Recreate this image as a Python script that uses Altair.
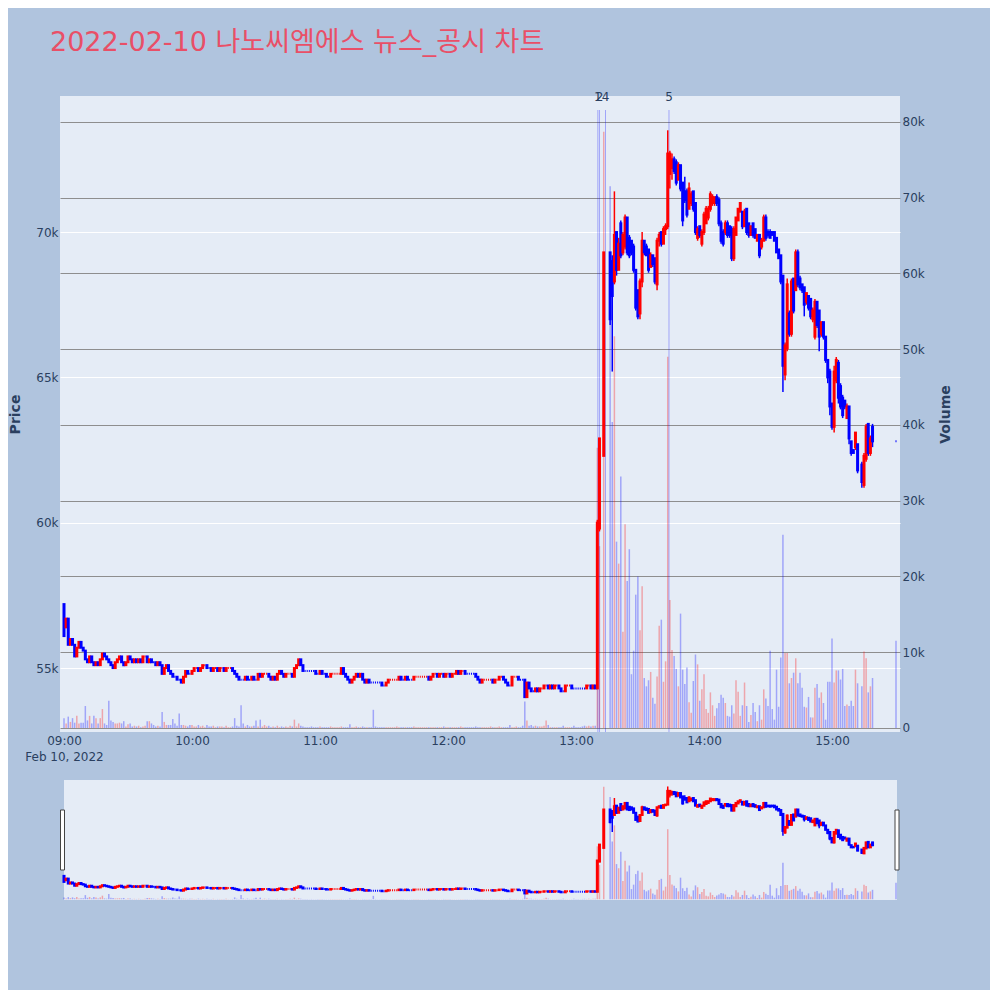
import altair as alt
import pandas as pd

TITLE = "2022-02-10 나노씨엠에스 뉴스_공시 차트"
FONT = "DejaVu Sans, Verdana, Noto Sans CJK KR"
TXT = "#2a3f5f"
UP = "#ff0000"
DOWN = "#0000ff"

# ---- morning session 09:00-13:09, one candle per minute (prices in hundreds of won) ----
am_open = [
    572, 564, 567, 558, 560, 558, 554, 557, 559, 557,
    556, 553, 552, 554, 552, 551, 552, 551, 553, 555,
    554, 553, 552, 551, 550, 552, 553, 554, 552, 551,
    552, 554, 553, 552, 553, 552, 553, 552, 554, 554,
    552, 553, 552, 552, 551, 552, 551, 548, 550, 551,
    549, 548, 547, 547, 546, 546, 545, 547, 549, 548,
    548, 549, 550, 550, 549, 550, 551, 551, 550, 550,
    549, 550, 550, 549, 550, 550, 549, 550, 550, 550,
    549, 548, 547, 546, 546, 546, 547, 546, 546, 547,
    546, 546, 548, 547, 548, 548, 548, 547, 546, 547,
    546, 548, 549, 548, 547, 548, 548, 548, 547, 550,
    551, 553, 551, 549, 549, 549, 549, 549, 549, 548,
    548, 549, 548, 548, 547, 547, 548, 548, 548, 548,
    548, 550, 548, 547, 546, 545, 546, 547, 548, 547,
    548, 546, 545, 546, 545, 545, 545, 545, 545, 545,
    544, 544, 545, 546, 546, 546, 546, 546, 547, 546,
    546, 547, 546, 546, 546, 547, 547, 547, 547, 547,
    547, 547, 546, 547, 548, 548, 547, 548, 548, 547,
    548, 548, 547, 548, 548, 549, 548, 549, 549, 548,
    548, 548, 548, 548, 547, 546, 545, 546, 546, 546,
    546, 546, 545, 546, 546, 547, 547, 546, 545, 544,
    544, 547, 547, 547, 546, 546, 546, 540, 545, 543,
    542, 542, 543, 542, 543, 543, 544, 544, 543, 544,
    543, 544, 544, 543, 542, 542, 544, 544, 544, 543,
    543, 543, 543, 543, 543, 543, 544, 544, 543, 544,
]
am_close = [
    561, 567, 558, 560, 558, 554, 557, 559, 557, 556,
    553, 552, 554, 552, 551, 552, 551, 553, 555, 554,
    553, 552, 551, 550, 552, 553, 554, 552, 551, 552,
    554, 553, 552, 553, 552, 553, 552, 554, 554, 552,
    553, 552, 552, 551, 552, 551, 548, 550, 551, 549,
    548, 547, 547, 546, 546, 545, 547, 549, 548, 548,
    549, 550, 550, 549, 550, 551, 551, 550, 550, 549,
    550, 550, 549, 550, 550, 549, 550, 550, 550, 549,
    548, 547, 546, 546, 546, 547, 546, 546, 547, 546,
    546, 548, 547, 548, 548, 548, 547, 546, 547, 546,
    548, 549, 548, 547, 548, 548, 548, 547, 550, 551,
    553, 551, 549, 549, 549, 549, 549, 549, 548, 548,
    549, 548, 548, 547, 547, 548, 548, 548, 548, 548,
    550, 548, 547, 546, 545, 546, 547, 548, 547, 548,
    546, 545, 546, 545, 545, 545, 545, 545, 545, 544,
    544, 545, 546, 546, 546, 546, 546, 547, 546, 546,
    547, 546, 546, 546, 547, 547, 547, 547, 547, 547,
    547, 546, 547, 548, 548, 547, 548, 548, 547, 548,
    548, 547, 548, 548, 549, 548, 549, 549, 548, 548,
    548, 548, 548, 547, 546, 545, 546, 546, 546, 546,
    546, 545, 546, 546, 547, 547, 546, 545, 544, 544,
    547, 547, 547, 546, 546, 546, 540, 545, 543, 542,
    542, 543, 542, 543, 543, 544, 544, 543, 544, 543,
    544, 544, 543, 542, 542, 544, 544, 544, 543, 543,
    543, 543, 543, 543, 543, 544, 544, 543, 544, 543,
]
# volume in thousands of shares
am_volume = [
    1.3, 0.6, 1.5, 0.8, 1.3, 0.7, 1.6, 0.6, 0.7, 0.7,
    2.9, 1.0, 1.6, 0.6, 1.6, 1.3, 0.6, 1.3, 2.5, 0.6,
    0.4, 3.6, 1.0, 0.8, 0.6, 0.6, 0.7, 0.6, 0.9, 0.2,
    0.5, 0.6, 0.2, 0.3, 0.2, 0.3, 0.1, 0.2, 0.3, 0.9,
    0.9, 0.6, 0.4, 0.2, 0.3, 0.2, 2.1, 0.8, 0.4, 0.4,
    0.4, 1.2, 0.6, 0.3, 1.9, 0.4, 0.4, 0.3, 0.2, 0.4,
    0.4, 0.2, 0.2, 0.4, 0.2, 0.3, 0.1, 0.4, 0.2, 0.2,
    0.3, 0.1, 0.2, 0.2, 0.2, 0.1, 0.3, 0.1, 0.1, 0.2,
    1.3, 0.3, 0.2, 3.0, 0.6, 0.2, 0.4, 0.2, 0.2, 0.3,
    1.0, 0.2, 1.1, 0.2, 0.4, 0.2, 0.3, 0.1, 0.2, 0.1,
    0.3, 0.1, 0.2, 0.1, 0.2, 0.1, 0.3, 0.2, 1.1, 0.2,
    0.6, 0.3, 0.2, 0.1, 0.1, 0.1, 0.2, 0.1, 0.1, 0.1,
    0.2, 0.1, 0.1, 0.1, 0.1, 0.2, 0.1, 0.1, 0.1, 0.1,
    0.2, 0.1, 0.1, 0.1, 0.5, 0.1, 0.1, 0.2, 0.1, 0.1,
    0.2, 0.1, 0.1, 0.1, 0.1, 2.4, 0.2, 0.1, 0.1, 0.1,
    0.1, 0.1, 0.1, 0.1, 0.1, 0.1, 0.2, 0.1, 0.1, 0.1,
    0.1, 0.1, 0.1, 0.1, 0.2, 0.1, 0.1, 0.1, 0.1, 0.1,
    0.1, 0.1, 0.1, 0.1, 0.1, 0.1, 0.1, 0.1, 0.2, 0.1,
    0.1, 0.1, 0.1, 0.1, 0.1, 0.1, 0.2, 0.1, 0.1, 0.1,
    0.1, 0.1, 0.1, 0.2, 0.1, 0.1, 0.1, 0.1, 0.1, 0.1,
    0.2, 0.1, 0.1, 0.1, 0.2, 0.1, 0.1, 0.1, 0.1, 0.4,
    0.1, 0.1, 0.2, 0.1, 0.1, 0.3, 3.5, 1.0, 0.3, 0.4,
    0.2, 0.3, 0.2, 0.2, 0.2, 0.3, 1.0, 0.4, 0.1, 0.1,
    0.1, 0.1, 0.1, 0.1, 0.3, 0.1, 0.1, 0.1, 0.1, 0.3,
    0.1, 0.1, 0.1, 0.2, 0.3, 0.2, 0.3, 0.2, 0.3, 0.3,
]

# ---- afternoon session after the news (minutes after 09:00) ----
pm_minute = [250, 251, 253] + list(range(256, 373)) + list(range(374, 380)) + [390]
pm_open = [
    543, 598, 623,
    693, 690, 683, 700, 687, 703, 693, 695, 705, 698,
    697, 695, 687, 680, 672, 683, 697, 695, 694, 688,
    692, 691, 682, 697, 700, 696, 701, 702, 720, 722,
    725, 724, 718, 723, 717, 714, 714, 708, 710, 714,
    710, 698, 702, 696, 700, 703, 705, 708, 710, 710,
    712, 711, 703, 700, 700, 703, 702, 701, 691, 699,
    704, 707, 707, 702, 708, 703, 699, 703, 701, 697,
    699, 695, 697, 705, 700, 700, 700, 700, 698, 694,
    692, 685, 651, 660, 672, 665, 684, 680, 693, 684,
    682, 681, 676, 678, 677, 670, 664, 676, 673, 665,
    669, 664, 656, 652, 641, 633, 649, 655, 647, 643,
    642, 636, 640, 628, 625, 626, 627,
    620, 613, 622, 634, 624, 633,
    628,
]
pm_high = [
    601, 629, 693,
    693, 692, 714, 700, 698, 704, 700, 706, 705, 699,
    697, 696, 687, 680, 684, 700, 697, 696, 694, 693,
    692, 691, 698, 700, 700, 702, 703, 735, 728, 727,
    726, 725, 724, 723, 717, 719, 715, 717, 714, 714,
    710, 702, 702, 701, 707, 709, 709, 714, 713, 712,
    713, 712, 704, 701, 704, 704, 702, 702, 702, 705,
    708, 710, 707, 708, 708, 703, 702, 703, 701, 699,
    699, 698, 706, 706, 701, 701, 700, 700, 698, 694,
    692, 685, 662, 684, 673, 684, 684, 694, 694, 685,
    682, 681, 679, 678, 677, 674, 677, 676, 673, 669,
    669, 664, 656, 653, 641, 654, 657, 656, 648, 644,
    642, 641, 640, 628, 625, 631, 627,
    621, 624, 634, 634, 630, 634,
    628,
]
pm_low = [
    543, 597, 623,
    668, 652, 682, 685, 687, 691, 692, 694, 692, 691,
    692, 686, 673, 670, 670, 681, 692, 692, 686, 688,
    688, 682, 680, 695, 695, 696, 699, 701, 715, 718,
    720, 716, 718, 714, 702, 710, 705, 708, 709, 707,
    699, 697, 698, 695, 699, 703, 704, 707, 709, 709,
    709, 702, 696, 695, 699, 698, 698, 690, 690, 699,
    704, 707, 701, 702, 699, 698, 699, 698, 698, 697,
    691, 694, 697, 697, 698, 698, 699, 697, 693, 691,
    682, 645, 649, 659, 664, 664, 672, 680, 681, 680,
    679, 671, 675, 673, 670, 669, 663, 667, 659, 664,
    663, 655, 648, 637, 632, 631, 648, 641, 639, 636,
    639, 636, 627, 623, 624, 625, 617,
    612, 612, 621, 623, 623, 626,
    628,
]
pm_close = [
    600, 629, 693,
    670, 678, 699, 687, 696, 692, 699, 705, 693, 692,
    693, 687, 674, 671, 683, 697, 693, 692, 687, 692,
    689, 683, 697, 699, 696, 701, 702, 727, 727, 725,
    721, 717, 723, 715, 704, 711, 706, 715, 713, 708,
    700, 701, 699, 700, 706, 708, 708, 713, 712, 712,
    710, 703, 697, 696, 703, 699, 699, 691, 701, 705,
    708, 710, 702, 707, 700, 699, 702, 699, 698, 699,
    692, 697, 705, 698, 699, 698, 699, 697, 693, 691,
    683, 654, 661, 682, 665, 683, 673, 693, 682, 681,
    680, 675, 679, 674, 671, 673, 676, 668, 664, 669,
    664, 656, 650, 640, 633, 652, 656, 643, 640, 637,
    640, 640, 629, 624, 624, 631, 618,
    614, 623, 633, 624, 629, 628,
    628,
]
pm_volume = [
    37.0, 24.0, 78.7,
    71.5, 40.4, 51.7, 24.6, 21.7, 33.2, 12.7, 26.9, 19.4, 23.6,
    7.1, 10.2, 17.6, 20.0, 12.9, 18.7, 6.6, 5.5, 6.3, 7.4,
    4.0, 3.2, 6.8, 13.5, 14.3, 6.1, 8.8, 49.0, 16.9, 10.3,
    9.5, 7.8, 5.5, 15.1, 7.7, 5.8, 8.0, 3.4, 2.0, 6.2,
    9.7, 8.4, 3.6, 5.1, 7.1, 2.5, 2.0, 4.7, 3.0, 1.6,
    2.6, 3.3, 4.4, 4.0, 3.3, 1.6, 1.5, 3.0, 1.9, 6.3,
    4.8, 1.6, 3.0, 6.0, 2.9, 0.8, 1.7, 3.3, 2.1, 0.9,
    3.0, 1.1, 5.1, 3.9, 2.9, 10.2, 2.5, 1.1, 7.7, 2.8,
    9.3, 25.5, 9.9, 9.9, 5.9, 6.6, 7.3, 9.2, 5.9, 7.3,
    5.3, 2.8, 2.7, 4.1, 1.4, 1.4, 5.3, 5.8, 4.0, 4.7,
    3.3, 1.1, 6.1, 6.1, 11.8, 6.0, 7.6, 7.6, 6.4, 7.8,
    2.9, 3.1, 2.9, 3.6, 2.9, 7.7, 5.9,
    5.5, 10.1, 9.2, 4.7, 5.5, 6.6,
    11.5,
]

# news / disclosure markers
news_label = ["1", "2", "4", "5"]
news_time = ["2022-02-10T13:10:15", "2022-02-10T13:11:00",
             "2022-02-10T13:13:50", "2022-02-10T13:43:35"]

price_ticks = [55000, 60000, 65000, 70000]
volume_ticks = [0, 10000, 20000, 30000, 40000, 50000, 60000, 70000, 80000]

# ---- build table ----
rows = []
for i in range(len(am_close)):
    o, c = am_open[i], am_close[i]
    rows.append(dict(m=i, o=o * 100, h=max(o, c) * 100, l=min(o, c) * 100,
                     c=c * 100, v=am_volume[i] * 1000))
for j, mm in enumerate(pm_minute):
    rows.append(dict(m=mm, o=pm_open[j] * 100, h=pm_high[j] * 100, l=pm_low[j] * 100,
                     c=pm_close[j] * 100, v=pm_volume[j] * 1000))
df = pd.DataFrame(rows)
df["t"] = [f"2022-02-10T{9 + int(mm) // 60:02d}:{int(mm) % 60:02d}:00" for mm in df["m"]]
dirs = []
prev_c, prev_d = None, "up"
for o, c in zip(df["o"], df["c"]):
    if c > o:
        d = "up"
    elif c < o:
        d = "down"
    elif prev_c is not None and c > prev_c:
        d = "up"
    elif prev_c is not None and c < prev_c:
        d = "down"
    else:
        d = prev_d
    dirs.append(d)
    prev_c, prev_d = c, d
df["dir"] = dirs
df = df.drop(columns=["m"])

news_df = pd.DataFrame({"label": news_label, "t": news_time})

# ---- scales & axes ----
x_scale = alt.Scale(domain=[
    alt.DateTime(year=2022, month=2, date=10, hours=8, minutes=58, seconds=7, milliseconds=500),
    alt.DateTime(year=2022, month=2, date=10, hours=15, minutes=31, seconds=52, milliseconds=500),
], padding=0)
price_scale = alt.Scale(domain=[52800, 74680], nice=False, zero=False)
vol_scale = alt.Scale(domain=[-530, 83430], nice=False, zero=False)
dir_scale = alt.Scale(domain=["up", "down"], range=[UP, DOWN])

x_axis = alt.Axis(
    values=[alt.DateTime(year=2022, month=2, date=10, hours=h) for h in range(9, 16)],
    labelExpr="hours(datum.value) == 9 ? ['09:00', 'Feb 10, 2022'] : timeFormat(datum.value, '%H:%M')",
    grid=False, ticks=False, domain=False, labelFlush=False, labelOverlap=False,
    labelPadding=3, labelLineHeight=16, labelFontSize=12, labelColor=TXT, labelFont=FONT,
    labelAngle=0, title=None,
)
price_axis = alt.Axis(
    orient="left", values=price_ticks, labelExpr="format(datum.value, '~s')",
    grid=True, gridColor="#ffffff", gridWidth=1,
    ticks=False, domain=False, labelPadding=2, labelFontSize=12, labelColor=TXT, labelFont=FONT,
    title="Price", titleFont=FONT, titleFontSize=14, titleFontWeight="bold", titleColor=TXT,
    titleAngle=270, titleX=-45, titleY=318, titleAlign="center", titleBaseline="middle",
)
vol_axis = alt.Axis(
    orient="right", values=volume_ticks,
    labelExpr="datum.value == 0 ? '0' : format(datum.value, '~s')",
    grid=True, gridColor="#8e8e8e", gridWidth=1,
    ticks=False, domain=False, labelPadding=2, labelFontSize=12, labelColor=TXT, labelFont=FONT,
    title="Volume", titleFont=FONT, titleFontSize=14, titleFontWeight="bold", titleColor=TXT,
    titleAngle=270, titleX=45, titleY=318, titleAlign="center", titleBaseline="middle",
)

color_enc = alt.Color("dir:N", scale=dir_scale, legend=None)
stroke_enc = alt.Stroke("dir:N", scale=dir_scale, legend=None)

W, H, SH = 840, 636, 120

# ---- main panel ----
base = alt.Chart(df)
X = alt.X("t:T", scale=x_scale, axis=x_axis)

vol = base.mark_bar(size=1.5, opacity=0.3).encode(
    x=X, y=alt.Y("v:Q", scale=vol_scale, axis=vol_axis), y2=alt.datum(0), color=color_enc)
wick = base.mark_rule(strokeWidth=1.5).encode(
    x=X, y=alt.Y("l:Q", scale=price_scale, axis=price_axis), y2="h:Q", color=color_enc)
body = base.mark_bar(size=1, strokeWidth=2).encode(
    x=X, y=alt.Y("o:Q", scale=price_scale, axis=None), y2="c:Q", color=color_enc, stroke=stroke_enc)
news_lines = alt.Chart(news_df).mark_rule(color="#0000ff", opacity=0.3, strokeWidth=1).encode(
    x=X, y=alt.value(14), y2=alt.value(H))
news_text = alt.Chart(news_df).mark_text(fontSize=12, color=TXT, font=FONT, baseline="middle").encode(
    x=X, y=alt.value(1), text="label:N")

main = alt.layer(vol, news_lines, wick, body, news_text).resolve_scale(y="independent").properties(
    width=W, height=H, view=alt.ViewBackground(fill="#e5ecf6", stroke=None))

# ---- range slider panel ----
SX = alt.X("t:T", scale=x_scale, axis=None)
one = alt.Data(values=[{"k": 0}])
s_bg = alt.Chart(one).mark_rect(color="#e5ecf6").encode(
    x=alt.value(4), x2=alt.value(837), y=alt.value(0), y2=alt.value(SH))
s_vol = base.mark_bar(size=1.5, opacity=0.3).encode(
    x=SX, y=alt.Y("v:Q", scale=vol_scale, axis=None), y2=alt.datum(0), color=color_enc)
s_wick = base.mark_rule(strokeWidth=1.5).encode(
    x=SX, y=alt.Y("l:Q", scale=price_scale, axis=None), y2="h:Q", color=color_enc)
s_body = base.mark_bar(size=1, strokeWidth=2).encode(
    x=SX, y=alt.Y("o:Q", scale=price_scale, axis=None), y2="c:Q", color=color_enc, stroke=stroke_enc)
h_left = alt.Chart(one).mark_rect(fill="#ffffff", stroke="#444444", strokeWidth=1).encode(
    x=alt.value(0.5), x2=alt.value(4.5), y=alt.value(30), y2=alt.value(90))
h_right = alt.Chart(one).mark_rect(fill="#ffffff", stroke="#444444", strokeWidth=1).encode(
    x=alt.value(835), x2=alt.value(839), y=alt.value(30), y2=alt.value(90))

slider = alt.layer(s_bg, s_vol, s_wick, s_body, h_left, h_right).resolve_scale(y="independent").properties(
    width=W, height=SH)

chart = alt.vconcat(main, slider, spacing=48, bounds="flush").properties(
    title=alt.Title(TITLE, anchor="start", frame="bounds", fontSize=27, font=FONT,
                    color="#e94f67", fontWeight="normal", offset=34, dx=42),
    padding=alt.Padding(left=0, top=21, right=38, bottom=90),
).configure(background="#b0c4de", font=FONT).configure_view(stroke=None)

chart.save("out.html", embed_options={"renderer": "svg", "actions": False})
